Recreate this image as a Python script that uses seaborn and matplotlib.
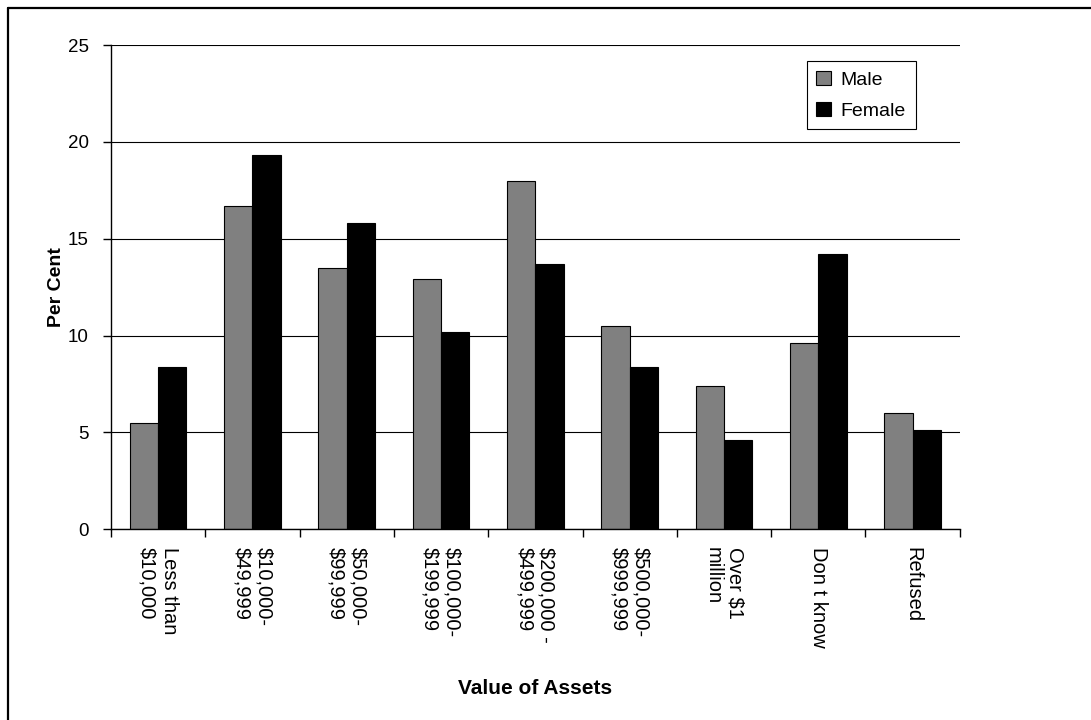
import seaborn as sns
import matplotlib.pyplot as plt
import pandas as pd
from matplotlib.lines import Line2D

categories = ["Less than\n$10,000", "$10,000-\n$49,999", "$50,000-\n$99,999",
              "$100,000-\n$199,999", "$200,000 -\n$499,999", "$500,000-\n$999,999",
              "Over $1\nmillion", "Don t know", "Refused"]
male = [5.5, 16.7, 13.5, 12.9, 18.0, 10.5, 7.4, 9.6, 6.0]
female = [8.4, 19.3, 15.8, 10.2, 13.7, 8.4, 4.6, 14.2, 5.1]

df = pd.DataFrame({
    "category": categories * 2,
    "value": male + female,
    "sex": ["Male"] * len(male) + ["Female"] * len(female),
})

sns.set_style("white")
plt.rcParams['font.family'] = ['Liberation Sans', 'DejaVu Sans']
plt.rcParams['text.color'] = 'black'
plt.rcParams['axes.labelcolor'] = 'black'
plt.rcParams['xtick.color'] = 'black'
plt.rcParams['ytick.color'] = 'black'

fig = plt.figure(figsize=(10.91, 7.2), dpi=100)
ax = fig.add_axes([0.1017, 0.265, 0.778, 0.6725])

sns.barplot(data=df, x="category", y="value", hue="sex", ax=ax,
            palette={"Male": "#808080", "Female": "#000000"},
            edgecolor="black", linewidth=0.8, width=0.6, saturation=1)

ax.set_ylim(0, 25)
ax.set_yticks([0, 5, 10, 15, 20, 25])
ax.set_xlim(-0.5, len(categories) - 0.5)
ax.yaxis.grid(True, color="black", linewidth=0.8)
ax.set_axisbelow(True)
for s in ["top", "right"]:
    ax.spines[s].set_visible(False)
for s in ["left", "bottom"]:
    ax.spines[s].set_color("black")
    ax.spines[s].set_linewidth(1)

# category boundary ticks like Excel
ax.set_xticks([i - 0.5 for i in range(len(categories) + 1)], minor=False)
ax.set_xticklabels([])
ax.set_xticks(range(len(categories)), minor=True)
ax.set_xticklabels(categories, minor=True, rotation=-90, fontsize=14.5,
                   ha="center", va="top", multialignment="left")
ax.tick_params(axis="x", which="major", direction="out", length=6, width=1, bottom=True)
ax.tick_params(axis="x", which="minor", length=0, pad=13)
ax.tick_params(axis="y", direction="out", length=6, width=1, left=True, labelsize=13.5, pad=10)

ax.set_xlabel("Value of Assets", fontsize=15, fontweight="bold", labelpad=22)
ax.set_ylabel("Per Cent", fontsize=14, fontweight="bold", labelpad=2)

leg = ax.legend(loc="upper right", bbox_to_anchor=(0.955, 0.978), fontsize=14,
                frameon=True, fancybox=False, edgecolor="black", framealpha=1,
                handlelength=0.75, handleheight=0.75, handletextpad=0.5,
                borderpad=0.5, borderaxespad=0.3, labelspacing=0.65)
leg.get_frame().set_linewidth(0.8)
leg.set_title(None)

# chart-area border: only left and top edges visible in the original crop
fig.add_artist(Line2D([0.0075, 0.0075], [0.0, 0.989], transform=fig.transFigure,
                      color="black", linewidth=1.6))
fig.add_artist(Line2D([0.0075, 1.0], [0.989, 0.989], transform=fig.transFigure,
                      color="black", linewidth=1.6))

fig.savefig("out.png", dpi=100)
